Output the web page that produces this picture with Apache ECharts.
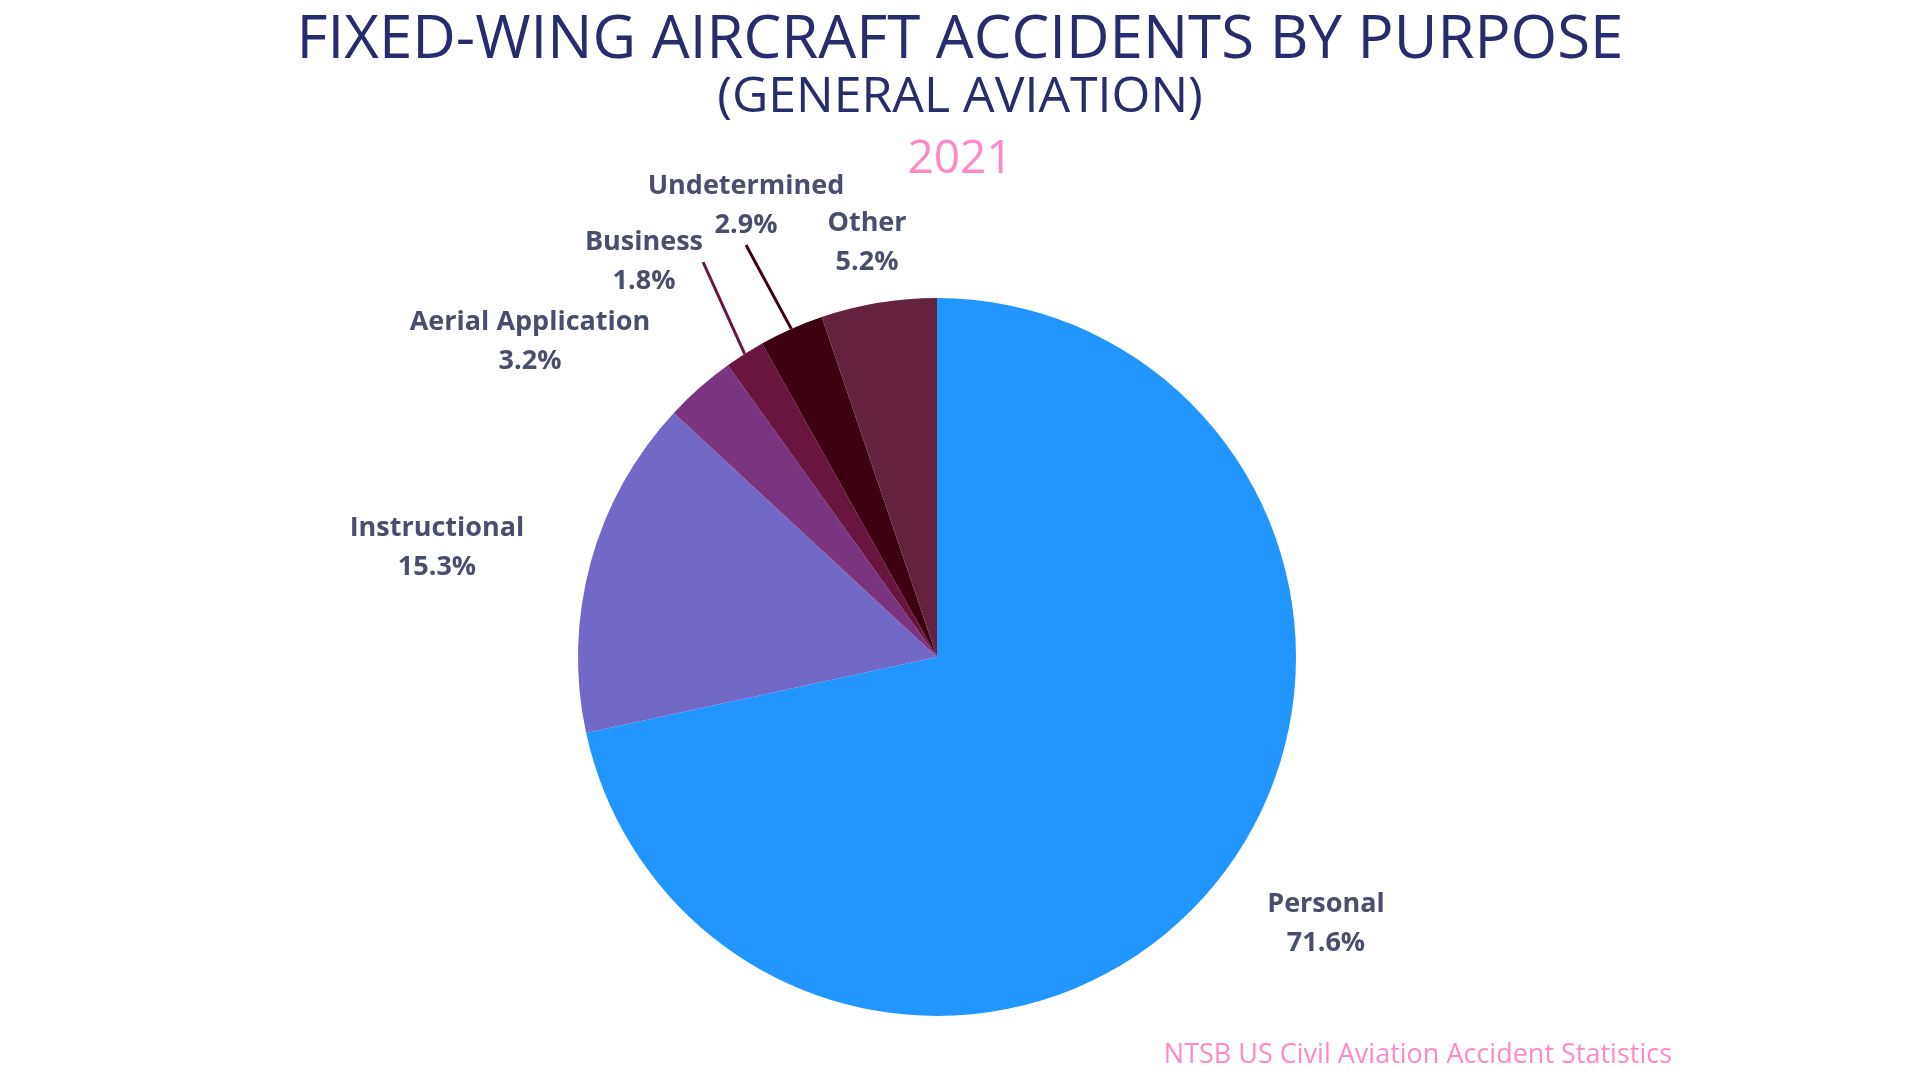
<!DOCTYPE html>
<html>
<head>
<meta charset="utf-8">
<script src="https://cdn.jsdelivr.net/npm/echarts@6/dist/echarts.min.js"></script>
<style>html,body{margin:0;padding:0;background:#fff}#main{width:1920px;height:1080px}</style>
</head>
<body>
<div id="main"></div>
<script>
var categories = ['Personal', 'Instructional', 'Aerial Application', 'Business', 'Undetermined', 'Other'];
var values = [71.6, 15.3, 3.2, 1.8, 2.9, 5.2];
var colors = ['#2196fe', '#7268c5', '#7b3580', '#6a1540', '#3e0010', '#65223e'];
var withLine = ['Business', 'Undetermined'];
// label anchor points (label centres), one per category
var labelX = [1326, 437, 530, 644, 746, 867];
var labelY = [924, 548, 342, 262, 206, 243];

var chart = echarts.init(document.getElementById('main'));
var data = categories.map(function (c, i) {
    var lined = withLine.indexOf(c) >= 0;
    return {
        name: c,
        value: values[i],
        itemStyle: { color: colors[i] },
        labelLine: { show: lined, length: 20, length2: 0, lineStyle: { color: colors[i], width: 3 } }
    };
});
chart.setOption({
    animation: false,
    title: [
        { text: 'FIXED-WING AIRCRAFT ACCIDENTS BY PURPOSE', left: 'center', top: 6,
          textStyle: { fontFamily: 'Open Sans', fontWeight: 'normal', fontSize: 60, color: '#262c6e' } },
        { text: '(GENERAL AVIATION)', left: 'center', top: 68,
          textStyle: { fontFamily: 'Open Sans', fontWeight: 'normal', fontSize: 50, color: '#262c6e' } },
        { text: '2021', left: 'center', top: 132,
          textStyle: { fontFamily: 'Open Sans', fontWeight: 'normal', fontSize: 46, color: '#ff88c8' } },
        { text: 'NTSB US Civil Aviation Accident Statistics', right: 243, bottom: 6,
          textStyle: { fontFamily: 'Open Sans', fontWeight: 'normal', fontSize: 27, color: '#ff88c8' } }
    ],
    series: [{
        type: 'pie',
        center: [937, 657],
        radius: 359,
        startAngle: 90,
        clockwise: true,
        data: data,
        labelLayout: function (p) {
            return { x: labelX[p.dataIndex], y: labelY[p.dataIndex], align: 'center', verticalAlign: 'middle', moveOverlap: false };
        },
        label: {
            show: true,
            position: 'outside',
            formatter: function (p) { return p.name + '\n' + p.value.toFixed(1) + '%'; },
            fontFamily: 'Open Sans',
            fontWeight: 'bold',
            fontSize: 27,
            lineHeight: 39,
            color: '#4a4e6e',
            align: 'center'
        }
    }]
});
</script>
</body>
</html>
